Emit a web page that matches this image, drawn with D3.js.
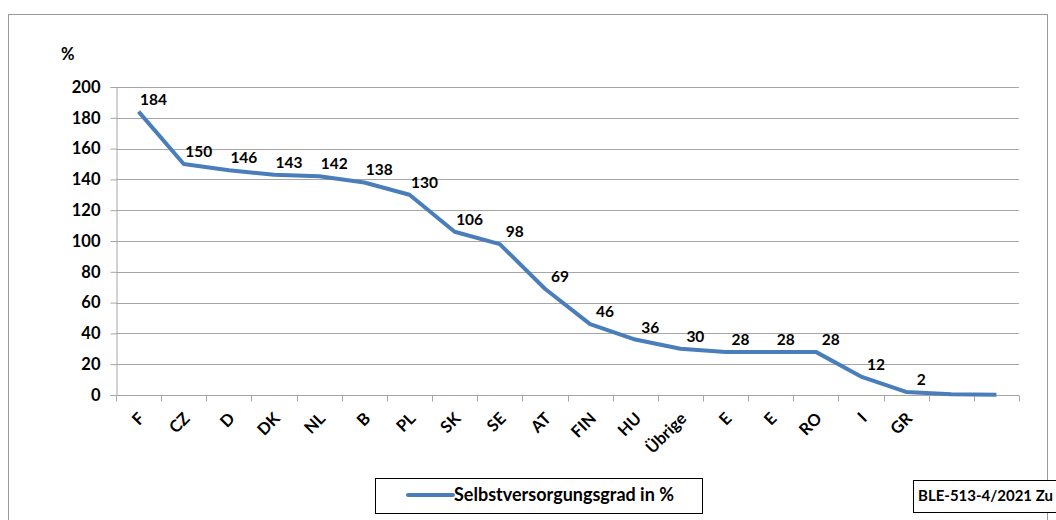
<!DOCTYPE html>
<html>
<head>
<meta charset="utf-8">
<script src="https://cdn.jsdelivr.net/npm/d3@7"></script>
<style>
  html, body { margin: 0; padding: 0; background: #fff; }
  svg { display: block; font-family: Lato, "Open Sans", "Liberation Sans", sans-serif; }
</style>
</head>
<body>
<svg id="chart" width="1056" height="520"></svg>
<script>
// Selbstversorgungsgrad je Land (in %)
const categories = ["F", "CZ", "D", "DK", "NL", "B", "PL", "SK", "SE", "AT",
                    "FIN", "HU", "Übrige", "E", "E", "RO", "I", "GR", "", ""];
const values = [184, 150, 146, 143, 142, 138, 130, 106, 98, 69,
                46, 36, 30, 28, 28, 28, 12, 2, 0.5, 0.2];
const showLabel = [true, true, true, true, true, true, true, true, true, true,
                   true, true, true, true, true, true, true, true, false, false];
const yTicks = [0, 20, 40, 60, 80, 100, 120, 140, 160, 180, 200];
const seriesName = "Selbstversorgungsgrad in %";
const sourceNote = "BLE-513-4/2021 Zu";

const svg = d3.select("#chart");
const margin = { left: 116, right: 1019, top: 87, bottom: 395 };
const lineColor = "#4a7ebb";
const gridColor = "#a6a6a6";

// outer frame
svg.append("rect")
  .attr("x", 8.5).attr("y", 14.5)
  .attr("width", 1039).attr("height", 520)
  .attr("fill", "none").attr("stroke", "#9a9a9a").attr("stroke-width", 1);

const x = d3.scaleBand().domain(d3.range(categories.length))
  .range([margin.left, margin.right]).paddingInner(0).paddingOuter(0);
const y = d3.scaleLinear().domain([0, 200]).range([margin.bottom, margin.top]);

// horizontal gridlines
svg.append("g").selectAll("line").data(yTicks.filter(d => d > 0)).join("line")
  .attr("x1", margin.left).attr("x2", margin.right)
  .attr("y1", d => Math.round(y(d)) + 0.5).attr("y2", d => Math.round(y(d)) + 0.5)
  .attr("stroke", gridColor).attr("stroke-width", 1);

// y axis
const yAxis = svg.append("g")
  .attr("transform", `translate(${margin.left + 0.5},0)`)
  .call(d3.axisLeft(y).tickValues(yTicks).tickSize(6).tickPadding(10));
yAxis.select(".domain").attr("stroke", gridColor);
yAxis.selectAll(".tick line").attr("stroke", gridColor);
yAxis.selectAll(".tick text")
  .attr("font-size", 16.5).attr("font-weight", "bold").attr("fill", "#000")
  .attr("font-family", "Lato, 'Open Sans', sans-serif");

// x axis with boundary ticks
const xAxisG = svg.append("g").attr("transform", `translate(0,${margin.bottom + 0.5})`);
xAxisG.append("line")
  .attr("x1", margin.left).attr("x2", margin.right)
  .attr("stroke", gridColor);
const boundaries = d3.range(categories.length + 1).map(i =>
  i < categories.length ? x(i) : x(categories.length - 1) + x.bandwidth());
xAxisG.selectAll("line.tk").data(boundaries).join("line").attr("class", "tk")
  .attr("x1", d => Math.round(d) + 0.5).attr("x2", d => Math.round(d) + 0.5)
  .attr("y1", 0).attr("y2", 6).attr("stroke", gridColor);
xAxisG.selectAll("text").data(categories).join("text")
  .attr("transform", (d, i) => `translate(${x(i) + x.bandwidth() / 2 + 3},${20}) rotate(-45)`)
  .attr("text-anchor", "end")
  .attr("dy", "0.35em")
  .attr("font-size", 16.5).attr("font-weight", "bold").attr("fill", "#000")
  .text(d => d);

// "%" axis title
svg.append("text").attr("x", 61).attr("y", 60)
  .attr("font-size", 16.5).attr("font-weight", "bold").text("%");

// series line
const cx = i => x(i) + x.bandwidth() / 2;
svg.append("path")
  .datum(values)
  .attr("fill", "none").attr("stroke", lineColor).attr("stroke-width", 4)
  .attr("stroke-linejoin", "round")
  .attr("d", d3.line().x((d, i) => cx(i)).y(d => y(d)));

// data labels
svg.append("g").selectAll("text")
  .data(values.map((v, i) => ({ v, i })).filter(d => showLabel[d.i]))
  .join("text")
  .attr("x", d => cx(d.i) + 15)
  .attr("y", d => y(d.v) - 7)
  .attr("text-anchor", "middle")
  .attr("font-size", 15.5).attr("font-weight", "bold").attr("fill", "#000")
  .text(d => d3.format("d")(d.v));

// legend
const lg = svg.append("g");
lg.append("rect").attr("x", 375.5).attr("y", 478.5).attr("width", 327).attr("height", 35)
  .attr("fill", "#fff").attr("stroke", "#000").attr("stroke-width", 1);
lg.append("line").attr("x1", 408).attr("x2", 453).attr("y1", 495).attr("y2", 495)
  .attr("stroke", lineColor).attr("stroke-width", 4).attr("stroke-linecap", "round");
lg.append("text").attr("x", 454).attr("y", 501)
  .attr("font-size", 18).attr("font-weight", "bold").text(seriesName);

// source note box
const sb = svg.append("g");
sb.append("rect").attr("x", 913.5).attr("y", 480.5).attr("width", 160).attr("height", 32)
  .attr("fill", "#fff").attr("stroke", "#000").attr("stroke-width", 1);
sb.append("text").attr("x", 918).attr("y", 501)
  .attr("font-size", 15).attr("font-weight", "bold").text(sourceNote);
</script>
</body>
</html>
